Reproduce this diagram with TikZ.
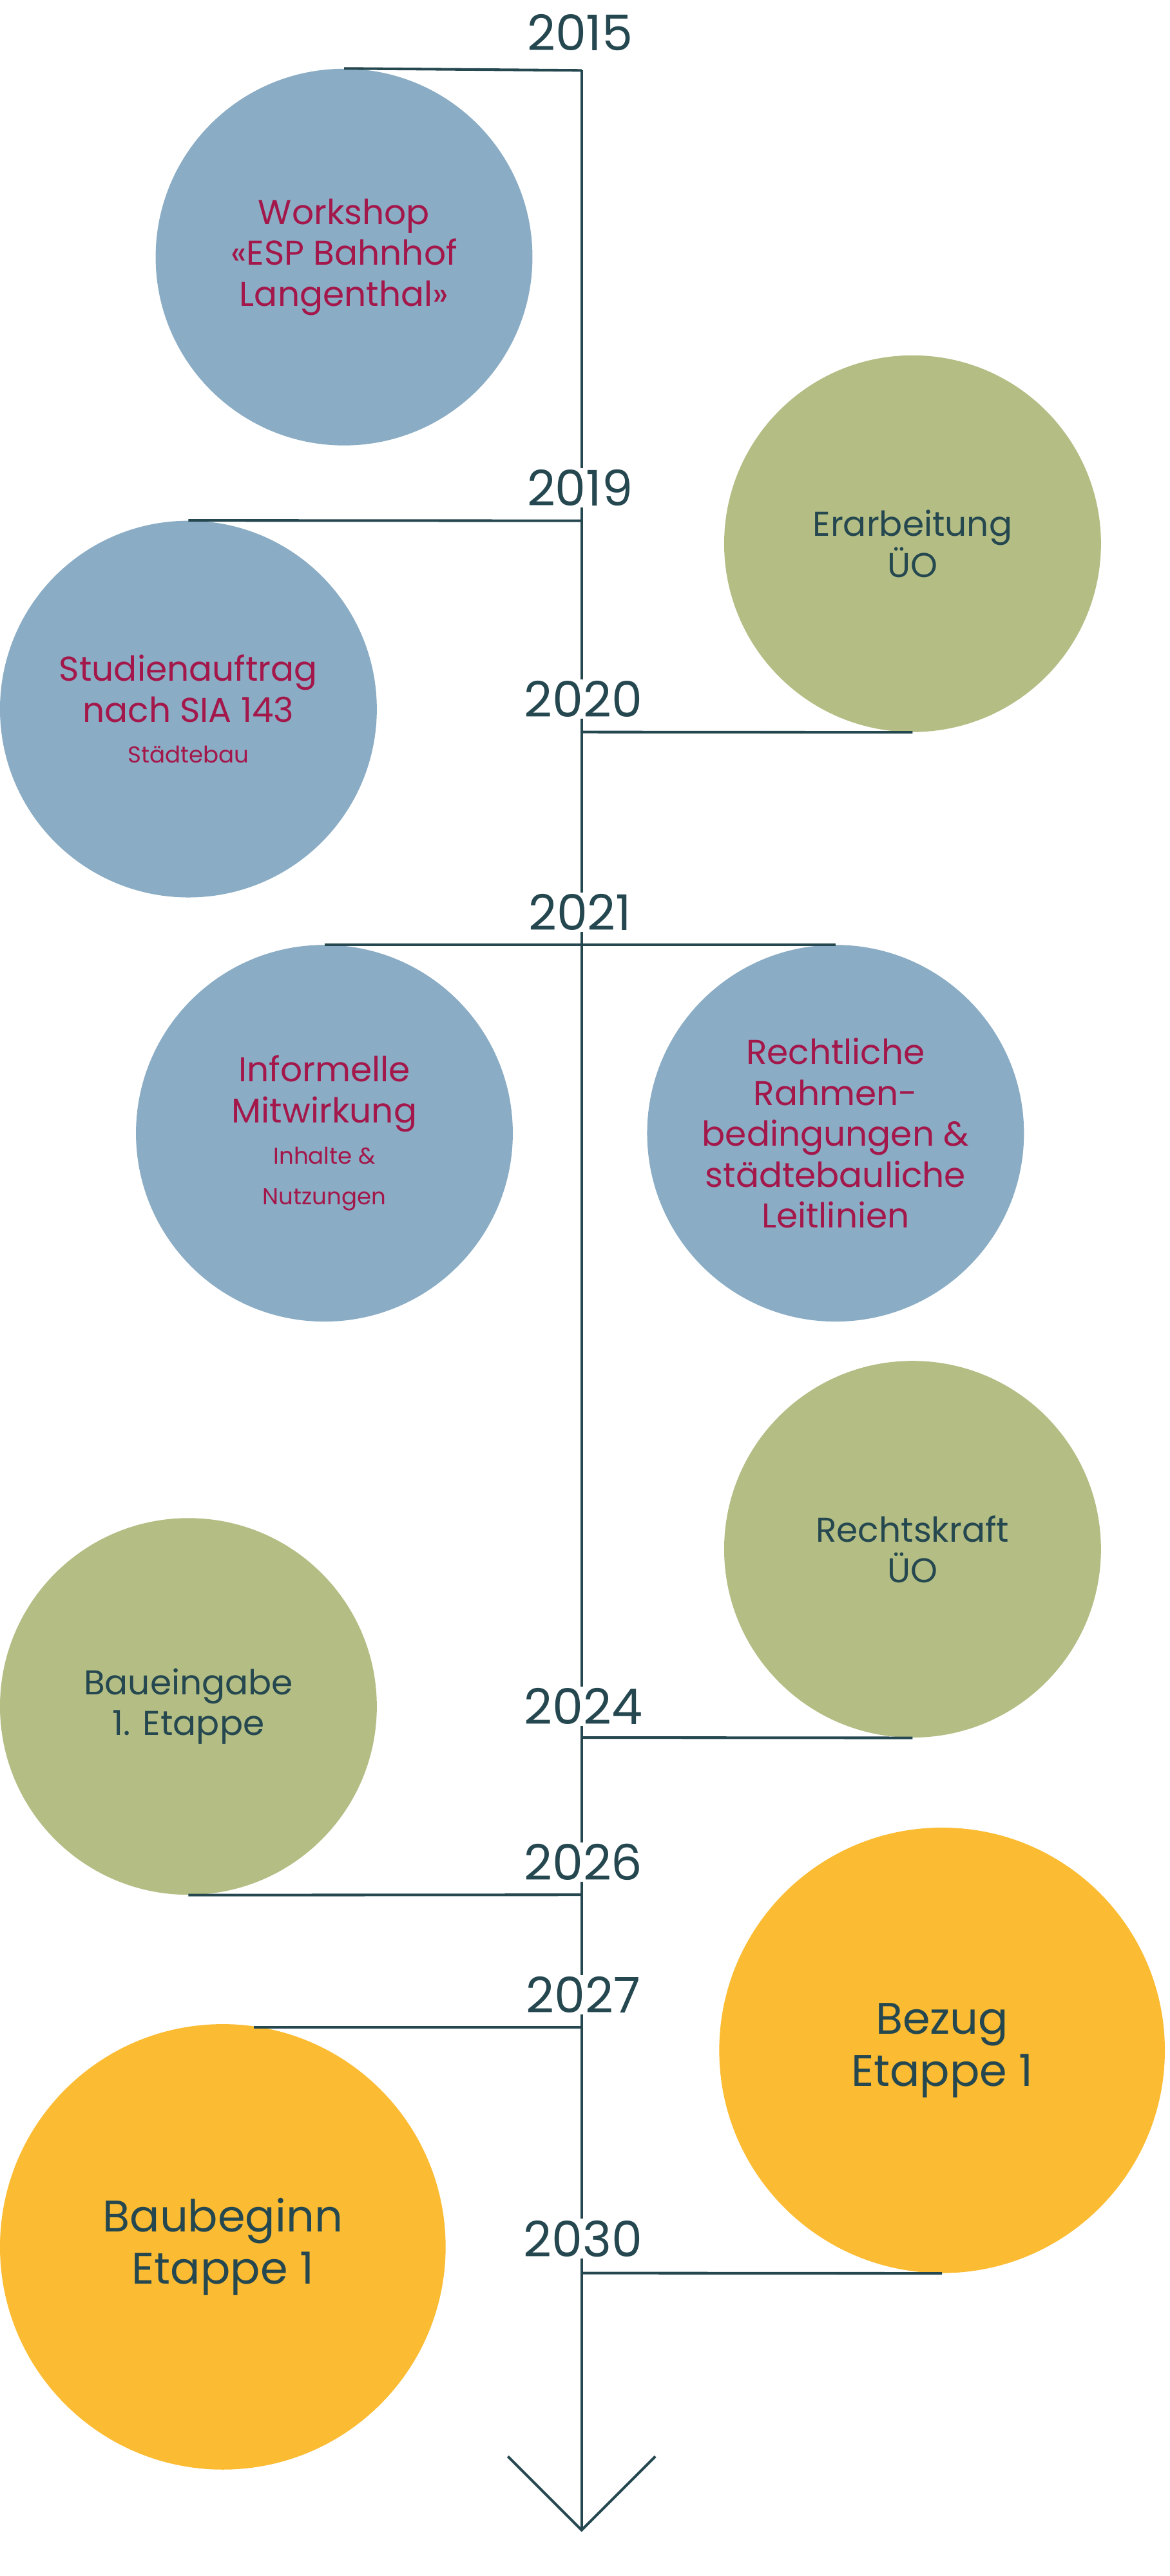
\documentclass[tikz,border=0pt]{standalone}
\usepackage{fontspec}
\setmainfont{Poppins}
\definecolor{cblue}{HTML}{8AACC4}
\definecolor{cgreen}{HTML}{B3BD84}
\definecolor{cyel}{HTML}{FBBC33}
\definecolor{cred}{HTML}{A3174A}
\definecolor{cdark}{HTML}{25474F}
\begin{document}
\begin{tikzpicture}[x=1pt,y=-1pt,
  ln/.style={draw=cdark,line width=1.6pt},
  yr/.style={fill=white,text=cdark,font=\fontsize{30}{30}\selectfont,inner sep=1pt},
  circ/.style={circle,minimum size=230pt,inner sep=0pt,align=center,font=\fontsize{21}{25}\selectfont},
  blue/.style={circ,fill=cblue,text=cred},
  green/.style={circ,fill=cgreen,text=cdark},
  yel/.style={circ,fill=cyel,text=cdark,minimum size=272pt,font=\fontsize{27}{32}\selectfont},
  sm/.style={font=\fontsize{14}{17}\selectfont}]
\useasboundingbox (0,0) rectangle (714,1573);
\node[blue] (c1) at (210,157) {Workshop\\«ESP Bahnhof\\Langenthal»};
\node[green] (c2) at (557,332) {Erarbeitung\\ÜO};
\node[blue] (c3) at (115,433) {Studienauftrag\\nach SIA 143\\{\fontsize{14}{17}\selectfont Städtebau}};
\node[blue] (c4) at (198,692) {Informelle\\Mitwirkung\\{\fontsize{14}{17}\selectfont Inhalte \&}\\{\fontsize{14}{17}\selectfont Nutzungen}};
\node[blue] (c5) at (510,692) {Rechtliche\\Rahmen-\\bedingungen \&\\städtebauliche\\Leitlinien};
\node[green] (c6) at (557,946) {Rechtskraft\\ÜO};
\node[green] (c7) at (115,1042) {Baueingabe\\1. Etappe};
\node[yel] (c8) at (136,1372) {Baubeginn\\Etappe 1};
\node[yel] (c9) at (575,1252) {Bezug\\Etappe 1};
\coordinate (top) at (355,43);
\coordinate (tip) at (355,1545);
\coordinate (al) at (310,1500);
\coordinate (ar) at (400,1500);
\draw[ln] (top) -- (tip);
\draw[ln] (al) -- (tip) -- (ar);
\draw[ln] (c1.north) -- (top);
\draw[ln] (c3.north) -- (355,318);
\draw[ln] (c2.south) -- (355,447);
\draw[ln] (c4.north) -- (c5.north);
\draw[ln] (c6.south) -- (355,1061);
\draw[ln] (c7.south) -- (355,1157);
\draw[ln] (155,1238) -- (355,1238);
\draw[ln] (c9.south) -- (355,1388);
\node[yr] (y15) at (354,20) {2015};
\node[yr] (y19) at (354,298) {2019};
\node[yr] (y20) at (356,427) {2020};
\node[yr] (y21) at (354,557) {2021};
\node[yr] (y24) at (356,1042) {2024};
\node[yr] (y26) at (356,1137) {2026};
\node[yr] (y27) at (356,1218) {2027};
\node[yr] (y30) at (356,1367) {2030};
\end{tikzpicture}
\end{document}
